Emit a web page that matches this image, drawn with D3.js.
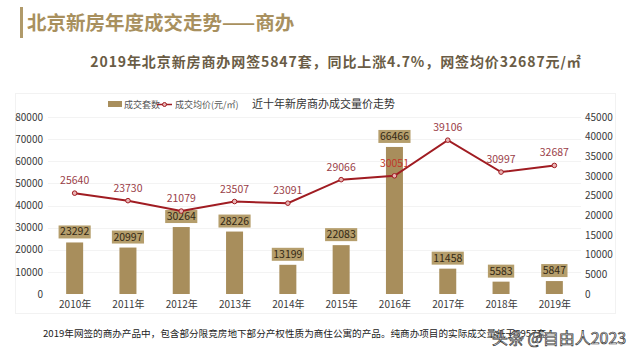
<!DOCTYPE html>
<html><head><meta charset="utf-8">
<script src="https://cdn.jsdelivr.net/npm/d3@7"></script>
<style>body{margin:0;background:#fff}svg{display:block}</style>
</head><body>
<svg id="c" width="640" height="360"></svg>
<script>
const years = ["2010年","2011年","2012年","2013年","2014年","2015年","2016年","2017年","2018年","2019年"];
const volumes = [23292,20997,30264,28226,13199,22083,66466,11458,5583,5847];
const prices = [25640,23730,21079,23507,23091,29066,30051,39106,30997,32687];
const leftTicks = [0,10000,20000,30000,40000,50000,60000,70000,80000];
const rightTicks = [0,5000,10000,15000,20000,25000,30000,35000,40000,45000];
const seriesNames = ["成交套数","成交均价(元/㎡)"];

const F = "'Noto Sans CJK SC','Noto Sans',sans-serif";
const svg = d3.select("#c");
const tan = "#a88e5c", red = "#a01c22";

// header
svg.append("rect").attr("x",20).attr("y",7).attr("width",3).attr("height",31).attr("fill","#b09a6a");
svg.append("text").attr("x",27).attr("y",30).attr("font-family",F).attr("font-size",19.5).attr("font-weight","bold")
  .attr("fill","#a8905e").text("北京新房年度成交走势——商办");
svg.append("text").attr("x",336).attr("y",67).attr("text-anchor","middle").attr("font-family",F).attr("font-size",14)
  .attr("font-weight","bold").attr("letter-spacing",0.9).attr("fill","#6a5c45")
  .text("2019年北京新房商办网签5847套，同比上涨4.7%，网签均价32687元/㎡");

// panel
svg.append("rect").attr("x",15.5).attr("y",93.5).attr("width",600).attr("height",220).attr("fill","none").attr("stroke","#f2f2f2");

const x = d3.scalePoint().domain(years).range([48,581]).padding(0.5);
const yL = d3.scaleLinear().domain([0,80000]).range([294,117]);
const yR = d3.scaleLinear().domain([0,45000]).range([294,117]);

// grid
svg.append("g").selectAll("line").data(leftTicks.slice(1)).join("line")
  .attr("x1",48).attr("x2",581).attr("y1",d=>Math.round(yL(d))+0.5).attr("y2",d=>Math.round(yL(d))+0.5)
  .attr("stroke","#f3f3f3");

// axes
const axL = svg.append("g").attr("transform","translate(48,0)")
  .call(d3.axisLeft(yL).tickValues(leftTicks).tickSize(0).tickPadding(5).tickFormat(d3.format("d")));
const axR = svg.append("g").attr("transform","translate(581,0)")
  .call(d3.axisRight(yR).tickValues(rightTicks).tickSize(0).tickPadding(4).tickFormat(d3.format("d")));
const axB = svg.append("g").attr("transform","translate(0,294)")
  .call(d3.axisBottom(x).tickSize(0).tickPadding(7));
[axL,axR,axB].forEach(a=>{a.select(".domain").remove();
  a.selectAll("text").attr("font-family",F).attr("font-size",10).attr("fill","#3a3a3a");});

// bars
const bw = 17;
svg.append("g").selectAll("rect").data(volumes).join("rect")
  .attr("x",(d,i)=>x(years[i])-bw/2).attr("y",d=>yL(d)).attr("width",bw).attr("height",d=>yL(0)-yL(d)).attr("fill",tan);

// bar labels
const bl = svg.append("g").selectAll("g").data(volumes).join("g");
bl.each(function(d,i){
  const g = d3.select(this);
  const t = g.append("text").attr("x",x(years[i])).attr("y",yL(d)-7).attr("text-anchor","middle")
    .attr("font-family",F).attr("font-size",10.5).attr("fill","#332814").text(d);
  const w = t.node().getComputedTextLength()+3;
  g.insert("rect","text").attr("x",x(years[i])-w/2).attr("y",yL(d)-17).attr("width",w).attr("height",13).attr("fill","#b59e6c");
});

// line
const line = d3.line().x((d,i)=>x(years[i])).y(d=>yR(d));
svg.append("path").datum(prices).attr("d",line).attr("fill","none").attr("stroke",red).attr("stroke-width",2);
svg.append("g").selectAll("circle").data(prices).join("circle")
  .attr("cx",(d,i)=>x(years[i])).attr("cy",d=>yR(d)).attr("r",2.3).attr("fill","#e9b4b4").attr("stroke",red).attr("stroke-width",1);
svg.append("g").selectAll("text").data(prices).join("text")
  .attr("x",(d,i)=>x(years[i])).attr("y",d=>yR(d)-9).attr("text-anchor","middle")
  .attr("font-family",F).attr("font-size",10.5).attr("fill",(d,i)=>i===6?"#c0392b":"#9a4048").text(d=>d);

// legend
const lg = svg.append("g");
lg.append("rect").attr("x",108).attr("y",101).attr("width",14).attr("height",6).attr("fill",tan);
lg.append("text").attr("x",124).attr("y",107.5).attr("font-family",F).attr("font-size",9).attr("fill","#555").text(seriesNames[0]);
lg.append("line").attr("x1",157).attr("x2",172).attr("y1",104.5).attr("y2",104.5).attr("stroke",red).attr("stroke-width",1.5);
lg.append("circle").attr("cx",164.5).attr("cy",104.5).attr("r",2).attr("fill","#e9b4b4").attr("stroke",red);
lg.append("text").attr("x",175).attr("y",107.5).attr("font-family",F).attr("font-size",9).attr("fill","#555").text(seriesNames[1]);
svg.append("text").attr("x",252).attr("y",108).attr("font-family",F).attr("font-size",11).attr("fill","#333").text("近十年新房商办成交量价走势");

// footnote
svg.append("text").attr("x",43).attr("y",337).attr("font-family",F).attr("font-size",9.6).attr("fill","#222")
  .text("2019年网签的商办产品中，包含部分限竞房地下部分产权性质为商住公寓的产品。纯商办项目的实际成交量低于5957套");

// watermark
svg.append("text").attr("x",492).attr("y",344).attr("font-family",F).attr("font-size",16)
  .attr("fill","#f6f6f6").attr("stroke","#333").attr("stroke-width",0.7).text("头条 @自由人2023");
</script>
</body></html>
